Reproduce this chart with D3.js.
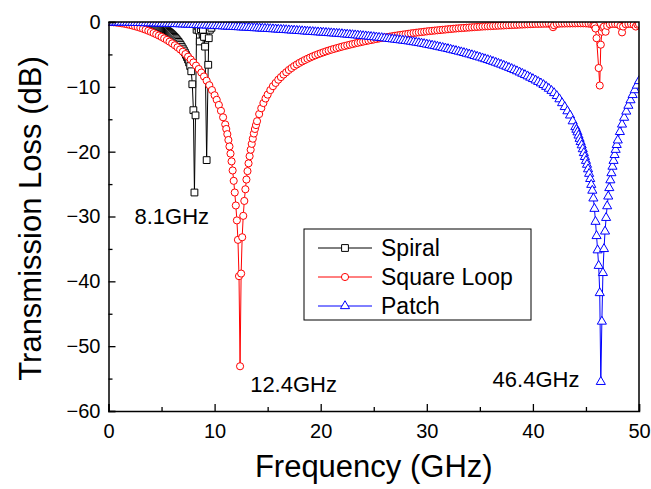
<!DOCTYPE html>
<html lang="en">
  <head>
    <meta charset="UTF-8" />
    <title>Transmission Loss</title>
    <script src="https://d3js.org/d3.v7.min.js"></script>
    <style>
      body {
        margin: 0;
        background: #fff;
        font-family: "Liberation Sans", Arial, sans-serif;
      }
      .tick text {
        font-size: 20px;
        fill: #000;
      }
      .axis path,
      .axis line {
        stroke: #000;
      }
    </style>
  </head>
  <body>
    <svg id="chart" width="651" height="489"></svg>

    <script>
      const xTicks = [0, 10, 20, 30, 40, 50];
      const xMinor = [5, 15, 25, 35, 45];
      const yTicks = [0, -10, -20, -30, -40, -50, -60];
      const yMinor = [-5, -15, -25, -35, -45, -55];

      const seriesNames = ["Spiral", "Square Loop", "Patch"];
      const seriesColors = ["#000000", "#ff0000", "#0000ff"];

      // [frequency GHz, dB]
      const spiral = [
        [0,0],[0.5,0],[1,-0.01],[1.5,-0.02],[2,-0.04],[2.5,-0.07],[3,-0.12],[3.25,-0.16],
        [3.5,-0.21],[3.75,-0.27],[4,-0.34],[4.1,-0.38],[4.2,-0.42],[4.3,-0.46],[4.4,-0.51],
        [4.5,-0.56],[4.6,-0.61],[4.7,-0.67],[4.8,-0.73],[4.9,-0.8],[5,-0.87],[5.1,-0.95],
        [5.2,-1.03],[5.3,-1.12],[5.4,-1.21],[5.5,-1.31],[5.6,-1.42],[5.7,-1.54],[5.8,-1.67],
        [5.9,-1.81],[6,-1.96],[6.1,-2.12],[6.2,-2.29],[6.3,-2.47],[6.4,-2.66],[6.5,-2.86],
        [6.6,-3.07],[6.7,-3.3],[6.8,-3.55],[6.9,-3.82],[7,-4.1],[7.1,-4.4],[7.2,-4.72],
        [7.3,-5.06],[7.4,-5.42],[7.5,-5.8],[7.6,-6.25],[7.7,-6.8],[7.8,-7.6],[7.9,-9.6],
        [8.0,-13.6],[8.1,-26.3],[8.2,-14.4],[8.3,-1.2],[8.4,-0.6],[8.5,-1.3],[8.6,-3.0],
        [8.7,-1.1],[8.8,-0.5],[8.9,-1.2],[9.0,-2.3],[9.1,-3.8],[9.25,-21.3],[9.4,-6.6],
        [9.45,-2.5],[9.55,-1.2],[9.7,-0.9],[9.8,-0.5],[9.9,-0.3],[10,-0.2],[10.25,-0.12],
        [10.5,-0.08]
      ];

      const squareLoop = [
        [0,0],[0.25,-0.02],[0.5,-0.05],[0.75,-0.09],[1,-0.14],[1.25,-0.2],[1.5,-0.27],
        [1.75,-0.35],[2,-0.44],[2.25,-0.54],[2.5,-0.65],[2.75,-0.77],[3,-0.9],[3.25,-1.04],
        [3.5,-1.19],[3.75,-1.35],[4,-1.52],[4.25,-1.7],[4.5,-1.89],[4.75,-2.09],[5,-2.3],
        [5.25,-2.53],[5.5,-2.77],[5.75,-3.03],[6,-3.3],[6.25,-3.59],[6.5,-3.9],[6.75,-4.23],
        [7,-4.58],[7.25,-4.95],[7.5,-5.35],[7.75,-5.78],[8,-6.24],[8.25,-6.73],[8.5,-7.25],
        [8.75,-7.8],[9,-8.4],[9.25,-9.05],[9.5,-9.75],[9.75,-10.5],[10,-11.3],[10.2,-12.0],
        [10.4,-12.8],[10.6,-13.7],[10.8,-14.7],[11,-15.8],[11.1,-16.5],[11.2,-17.3],
        [11.3,-18.2],[11.4,-19.2],[11.5,-20.3],[11.6,-21.5],[11.7,-22.9],[11.8,-24.5],
        [11.9,-26.3],[12,-28.3],[12.1,-30.6],[12.2,-33.6],[12.3,-39.2],[12.4,-53.1],
        [12.5,-38.8],[12.6,-33.2],[12.7,-29.9],[12.8,-27.6],[12.9,-25.8],[13,-24.3],
        [13.1,-23.0],[13.2,-21.8],[13.3,-20.7],[13.4,-19.7],[13.5,-18.8],[13.6,-18.0],
        [13.7,-17.2],[13.8,-16.5],[13.9,-15.9],[14,-15.3],[14.2,-14.2],[14.4,-13.3],
        [14.6,-12.5],[14.8,-11.8],[15,-11.2],[15.25,-10.5],[15.5,-9.9],[15.75,-9.4],
        [16,-8.9],[16.25,-8.5],[16.5,-8.1],[16.75,-7.75],[17,-7.4],[17.25,-7.1],[17.5,-6.8],
        [17.75,-6.55],[18,-6.3],[18.25,-6.08],[18.5,-5.87],[18.75,-5.67],[19,-5.48],
        [19.25,-5.3],[19.5,-5.13],[19.75,-4.97],[20,-4.82],[20.25,-4.67],[20.5,-4.53],
        [20.75,-4.4],[21,-4.27],[21.25,-4.15],[21.5,-4.03],[21.75,-3.92],[22,-3.81],
        [22.25,-3.7],[22.5,-3.6],[22.75,-3.5],[23,-3.4],[23.25,-3.3],[23.5,-3.21],
        [23.75,-3.12],[24,-3.03],[24.25,-2.94],[24.5,-2.86],[24.75,-2.78],[25,-2.7],
        [25.25,-2.62],[25.5,-2.54],[25.75,-2.47],[26,-2.4],[26.25,-2.33],[26.5,-2.26],
        [26.75,-2.19],[27,-2.12],[27.25,-2.06],[27.5,-2.0],[27.75,-1.94],[28,-1.88],
        [28.25,-1.82],[28.5,-1.76],[28.75,-1.7],[29,-1.65],[29.25,-1.6],[29.5,-1.55],
        [29.75,-1.5],[30,-1.45],[30.25,-1.4],[30.5,-1.36],[30.75,-1.32],[31,-1.28],
        [31.25,-1.24],[31.5,-1.2],[31.75,-1.16],[32,-1.12],[32.25,-1.08],[32.5,-1.04],
        [32.75,-1.0],[33,-0.97],[33.25,-0.94],[33.5,-0.91],[33.75,-0.88],[34,-0.85],
        [34.25,-0.82],[34.5,-0.79],[34.75,-0.76],[35,-0.73],[35.25,-0.7],[35.5,-0.68],
        [35.75,-0.66],[36,-0.64],[36.25,-0.61],[36.5,-0.59],[36.75,-0.57],[37,-0.55],
        [37.25,-0.53],[37.5,-0.51],[37.75,-0.49],[38,-0.47],[38.25,-0.45],[38.5,-0.43],
        [38.75,-0.41],[39,-0.39],[39.25,-0.37],[39.5,-0.35],[39.75,-0.33],[40,-0.31],
        [40.25,-0.3],[40.5,-0.29],[40.75,-0.28],[41,-0.27],[41.25,-0.26],[41.5,-0.26],
        [41.75,-0.4],[41.9,-0.8],[42,-0.5],[42.25,-0.3],[42.5,-0.25],[42.75,-0.24],
        [43,-0.23],[43.25,-0.22],[43.5,-0.22],[43.75,-0.21],[44,-0.21],[44.25,-0.2],
        [44.5,-0.2],[44.75,-0.2],[45,-0.22],[45.25,-0.25],[45.5,-0.3],[45.7,-0.45],
        [45.8,-0.6],[45.9,-1.0],[46,-2.5],[46.2,-7.1],[46.3,-9.8],[46.4,-3.5],[46.5,-1.5],
        [46.6,-0.9],[46.7,-0.7],[46.85,-1.5],[47,-0.6],[47.25,-0.35],[47.5,-0.3],
        [47.75,-0.3],[48,-0.35],[48.25,-0.6],[48.4,-1.6],[48.5,-0.7],[48.75,-0.35],
        [49,-0.3],[49.25,-0.3],[49.5,-0.4],[49.7,-0.7],[49.85,-0.4],[50,-0.3]
      ];

      const patch = [
        [0,-0.05],[0.25,-0.05],[0.5,-0.06],[0.75,-0.06],[1,-0.07],[1.25,-0.08],[1.5,-0.08],
        [1.75,-0.09],[2,-0.1],[2.25,-0.11],[2.5,-0.12],[2.75,-0.13],[3,-0.14],[3.25,-0.15],
        [3.5,-0.16],[3.75,-0.17],[4,-0.18],[4.25,-0.19],[4.5,-0.2],[4.75,-0.22],[5,-0.23],
        [5.25,-0.24],[5.5,-0.25],[5.75,-0.27],[6,-0.28],[6.25,-0.3],[6.5,-0.31],[6.75,-0.33],
        [7,-0.35],[7.25,-0.37],[7.5,-0.38],[7.75,-0.4],[8,-0.42],[8.25,-0.44],[8.5,-0.46],
        [8.75,-0.48],[9,-0.5],[9.25,-0.52],[9.5,-0.54],[9.75,-0.56],[10,-0.58],[10.25,-0.6],
        [10.5,-0.62],[10.75,-0.65],[11,-0.67],[11.25,-0.69],[11.5,-0.71],[11.75,-0.74],
        [12,-0.76],[12.25,-0.78],[12.5,-0.81],[12.75,-0.83],[13,-0.85],[13.25,-0.88],
        [13.5,-0.9],[13.75,-0.93],[14,-0.95],[14.25,-0.97],[14.5,-1.0],[14.75,-1.02],
        [15,-1.05],[15.25,-1.07],[15.5,-1.1],[15.75,-1.12],[16,-1.15],[16.25,-1.18],
        [16.5,-1.2],[16.75,-1.23],[17,-1.26],[17.25,-1.29],[17.5,-1.31],[17.75,-1.34],
        [18,-1.37],[18.25,-1.4],[18.5,-1.43],[18.75,-1.46],[19,-1.49],[19.25,-1.52],
        [19.5,-1.55],[19.75,-1.57],[20,-1.6],[20.25,-1.63],[20.5,-1.66],[20.75,-1.69],
        [21,-1.72],[21.25,-1.75],[21.5,-1.78],[21.75,-1.81],[22,-1.85],[22.25,-1.89],
        [22.5,-1.92],[22.75,-1.96],[23,-2.0],[23.25,-2.03],[23.5,-2.07],[23.75,-2.11],
        [24,-2.15],[24.25,-2.19],[24.5,-2.23],[24.75,-2.28],[25,-2.32],[25.25,-2.36],
        [25.5,-2.41],[25.75,-2.45],[26,-2.5],[26.25,-2.55],[26.5,-2.6],[26.75,-2.65],
        [27,-2.7],[27.25,-2.75],[27.5,-2.8],[27.75,-2.85],[28,-2.9],[28.25,-2.96],
        [28.5,-3.02],[28.75,-3.09],[29,-3.16],[29.25,-3.23],[29.5,-3.3],[29.75,-3.38],
        [30,-3.46],[30.25,-3.54],[30.5,-3.62],[30.75,-3.7],[31,-3.79],[31.25,-3.88],
        [31.5,-3.97],[31.75,-4.06],[32,-4.15],[32.25,-4.25],[32.5,-4.35],[32.75,-4.45],
        [33,-4.55],[33.25,-4.65],[33.5,-4.76],[33.75,-4.87],[34,-4.98],[34.25,-5.1],
        [34.5,-5.22],[34.75,-5.34],[35,-5.46],[35.25,-5.59],[35.5,-5.72],[35.75,-5.85],
        [36,-5.98],[36.25,-6.12],[36.5,-6.26],[36.75,-6.41],[37,-6.56],[37.25,-6.72],
        [37.5,-6.88],[37.75,-7.05],[38,-7.22],[38.25,-7.4],[38.5,-7.58],[38.75,-7.77],
        [39,-7.96],[39.25,-8.16],[39.5,-8.36],[39.75,-8.57],[40,-8.78],[40.25,-9.0],
        [40.5,-9.22],[40.75,-9.45],[41,-9.7],[41.25,-9.98],[41.5,-10.28],[41.75,-10.6],
        [42,-10.95],[42.25,-11.4],[42.5,-11.9],[42.75,-12.5],[43,-13.1],[43.25,-13.75],
        [43.5,-14.4],[43.75,-15.3],[44,-16.2],[44.1,-16.6],[44.2,-17.0],[44.3,-17.5],
        [44.4,-18.0],[44.5,-18.5],[44.6,-19.0],[44.7,-19.6],[44.8,-20.2],[44.9,-20.8],
        [45,-21.4],[45.1,-22.0],[45.2,-22.7],[45.3,-23.4],[45.4,-24.2],[45.5,-25.1],
        [45.6,-26.0],[45.7,-27.2],[45.8,-28.8],[45.9,-30.8],[46,-33.0],[46.1,-35.2],
        [46.2,-37.6],[46.3,-41.8],[46.4,-55.5],[46.5,-46.2],[46.6,-38.7],[46.7,-35.0],
        [46.8,-32.3],[46.9,-30.2],[47,-28.4],[47.1,-26.9],[47.2,-25.6],[47.3,-24.4],
        [47.4,-23.3],[47.5,-22.3],[47.6,-21.4],[47.7,-20.5],[47.8,-19.7],[47.9,-18.95],
        [48,-18.25],[48.2,-16.95],[48.4,-15.8],[48.6,-14.75],[48.8,-13.8],[49,-12.9],
        [49.2,-12.05],[49.4,-11.25],[49.6,-10.5],[49.8,-9.8],[50,-9.1]
      ];

      const annotations = [
        { text: "8.1GHz", f: 2.45, db: -31.2 },
        { text: "12.4GHz", f: 13.35, db: -57.0 },
        { text: "46.4GHz", f: 36.2, db: -56.3 }
      ];

      const svg = d3.select("#chart");
      const margin = { top: 22, right: 12, bottom: 78, left: 108.5 };
      const width = +svg.attr("width") - margin.left - margin.right;
      const height = +svg.attr("height") - margin.top - margin.bottom;
      const g = svg
        .append("g")
        .attr("transform", `translate(${margin.left},${margin.top})`);

      const x = d3.scaleLinear().domain([0, 50]).range([0, width]);
      const y = d3.scaleLinear().domain([-60, 0]).range([height, 0]);

      g.append("clipPath")
        .attr("id", "plotClip")
        .append("rect")
        .attr("width", width)
        .attr("height", height);

      const line = d3
        .line()
        .x((d) => x(d[0]))
        .y((d) => y(d[1]));

      const symbols = [d3.symbolSquare, d3.symbolCircle, d3.symbolTriangle];
      const symbolSizes = [46, 40, 36];

      const plot = g.append("g").attr("clip-path", "url(#plotClip)");
      [spiral, squareLoop, patch].forEach((data, i) => {
        const s = plot.append("g");
        s.append("path")
          .datum(data)
          .attr("fill", "none")
          .attr("stroke", seriesColors[i])
          .attr("stroke-width", 1)
          .attr("d", line);
        s.selectAll("path.mark")
          .data(data)
          .join("path")
          .attr("class", "mark")
          .attr("transform", (d) => `translate(${x(d[0])},${y(d[1])})`)
          .attr("d", d3.symbol(symbols[i], symbolSizes[i]))
          .attr("fill", "#fff")
          .attr("stroke", seriesColors[i])
          .attr("stroke-width", 1);
      });

      // Axes
      const xAxis = g
        .append("g")
        .attr("class", "axis")
        .attr("transform", `translate(0,${height})`)
        .call(
          d3.axisBottom(x).tickValues(xTicks).tickSize(-7).tickPadding(12)
        );
      g.append("g")
        .attr("class", "axis")
        .attr("transform", `translate(0,${height})`)
        .call(
          d3.axisBottom(x).tickValues(xMinor).tickSize(-4).tickFormat("")
        )
        .select(".domain")
        .remove();
      g.append("g")
        .attr("class", "axis")
        .call(d3.axisLeft(y).tickValues(yTicks).tickSize(-7).tickPadding(8));
      g.append("g")
        .attr("class", "axis")
        .call(d3.axisLeft(y).tickValues(yMinor).tickSize(-4).tickFormat(""))
        .select(".domain")
        .remove();
      g.selectAll(".axis .domain").attr("stroke-width", 1.5);
      g.selectAll(".axis .tick line").attr("stroke-width", 1.3);
      xAxis.selectAll(".tick text").attr("dy", "0.75em");

      // frame
      g.append("path")
        .attr("d", `M0,0H${width}V${height}`)
        .attr("fill", "none")
        .attr("stroke", "#000")
        .attr("stroke-width", 1.5);

      // Titles
      svg
        .append("text")
        .attr("x", margin.left + width / 2)
        .attr("y", 477)
        .attr("text-anchor", "middle")
        .attr("font-size", 31)
        .text("Frequency (GHz)");
      svg
        .append("text")
        .attr("transform", `translate(41,${margin.top + height / 2 + 2}) rotate(-90)`)
        .attr("text-anchor", "middle")
        .attr("font-size", 31)
        .text("Transmission Loss (dB)");

      // Resonance labels
      g.selectAll("text.note")
        .data(annotations)
        .join("text")
        .attr("class", "note")
        .attr("x", (d) => x(d.f))
        .attr("y", (d) => y(d.db))
        .attr("font-size", 22)
        .text((d) => d.text);

      // Legend
      const legend = svg.append("g").attr("transform", "translate(304,229)");
      legend
        .append("rect")
        .attr("width", 227)
        .attr("height", 91)
        .attr("fill", "#fff")
        .attr("stroke", "#000")
        .attr("stroke-width", 1);
      seriesNames.forEach((name, i) => {
        const ly = 19 + i * 29;
        legend
          .append("line")
          .attr("x1", 14)
          .attr("x2", 68)
          .attr("y1", ly)
          .attr("y2", ly)
          .attr("stroke", seriesColors[i])
          .attr("stroke-width", 1);
        legend
          .append("path")
          .attr("transform", `translate(41,${ly})`)
          .attr("d", d3.symbol(symbols[i], symbolSizes[i])())
          .attr("fill", "#fff")
          .attr("stroke", seriesColors[i]);
        legend
          .append("text")
          .attr("x", 77)
          .attr("y", ly)
          .attr("dy", "0.36em")
          .attr("font-size", 23)
          .text(name);
      });
    </script>
  </body>
</html>
